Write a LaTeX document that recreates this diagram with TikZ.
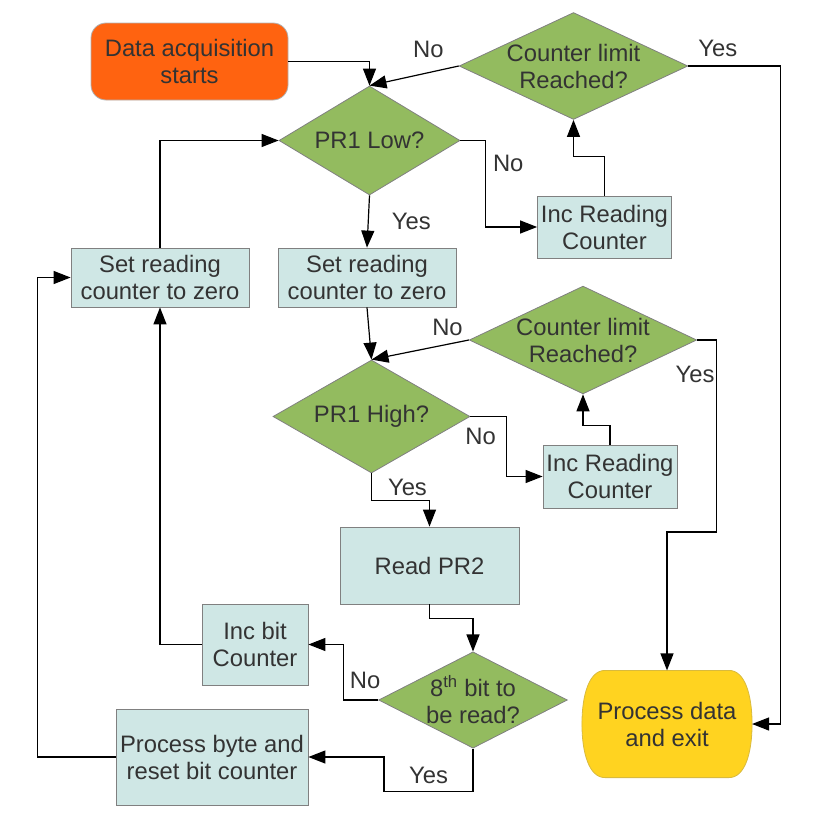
\documentclass[tikz,border=0pt]{standalone}
\usepackage{fontspec}
\setmainfont{Liberation Sans}
\usetikzlibrary{shapes.geometric, positioning, arrows.meta, backgrounds}

\definecolor{startorange}{HTML}{FF6310}
\definecolor{decgreen}{HTML}{93BB5F}
\definecolor{boxcyan}{HTML}{CFE7E5}
\definecolor{endyellow}{HTML}{FFD320}
\definecolor{txtgray}{HTML}{333333}

\tikzset{
  every node/.style={font=\fontsize{23.8}{27}\selectfont, text=txtgray, align=center},
  box/.style={rectangle, draw=gray, line width=0.8pt, fill=boxcyan, inner sep=0pt},
  decision/.style={diamond, draw=gray, line width=0.8pt, fill=decgreen, inner sep=0pt},
  startbox/.style={rectangle, rounded corners=15pt, draw=gray!60, line width=0.8pt, fill=startorange, inner sep=0pt},
  endbox/.style={rectangle, inner sep=0pt},
  barrel/.style={draw=endyellow!70!gray, line width=0.8pt, fill=endyellow},
  lbl/.style={inner sep=0pt}
}

\begin{document}
\begin{tikzpicture}[x=1pt,y=-1pt,>={Triangle[length=17pt,width=13pt]},line width=1.2pt,node distance=207pt,on grid]
       \useasboundingbox (0,0) rectangle (816,827);
       \node[startbox, minimum width=197pt, minimum height=77pt] (start) at (189.5,61.5) {Data acquisition\\starts};
       \node[decision, minimum width=225pt, minimum height=105pt, aspect=2.14] (limA) at (573.5,66) {Counter limit\\Reached?};
       \node[decision, minimum width=181pt, minimum height=109pt, aspect=1.66] (low) at (369.5,140.5) {PR1 Low?};
       \node[box, minimum width=134pt, minimum height=62pt] (incA) at (604.5,227) {Inc Reading\\Counter};
       \node[box, minimum width=178pt, minimum height=59pt] (setB) at (367,277.5) {Set reading\\counter to zero};
       \node[box, minimum width=178pt, minimum height=59pt] (setA) [left=of setB] {Set reading\\counter to zero};
       \node[decision, minimum width=224pt, minimum height=106pt, aspect=2.11] (limB) at (583,340) {Counter limit\\Reached?};
       \node[decision, minimum width=197pt, minimum height=113pt, aspect=1.74] (high) at (371.5,416.5) {PR1 High?};
       \node[box, minimum width=134pt, minimum height=63pt] (incB) at (610,476.5) {Inc Reading\\Counter};
       \node[box, minimum width=179pt, minimum height=77pt] (read) at (429.5,565.5) {Read PR2};
       \node[decision, minimum width=188pt, minimum height=96pt, aspect=1.96] (bit) at (473,700) {8\textsuperscript{th} bit to\\be read?};
       \node[box, minimum width=106pt, minimum height=81pt] (incbit) at (255,644.5) {Inc bit\\Counter};
       \node[box, minimum width=192pt, minimum height=96pt] (byte) at (212,757) {Process byte and\\reset bit counter};
       \node[endbox, minimum width=132pt, minimum height=106pt] (done) at (667,724) {Process data\\and exit};
       \coordinate (doneR) at ([xshift=15pt]done.east);

       % barrel outline behind the end node
       \begin{scope}[on background layer]
         \draw[barrel] ([xshift=8pt]done.north west) -- ([xshift=-8pt]done.north east)
           .. controls ([xshift=8pt]done.north east) and ([xshift=15pt,yshift=-25pt]done.north east) .. (doneR)
           .. controls ([xshift=15pt,yshift=25pt]done.south east) and ([xshift=8pt]done.south east) .. ([xshift=-8pt]done.south east)
           -- ([xshift=8pt]done.south west)
           .. controls ([xshift=-8pt]done.south west) and ([xshift=-15pt,yshift=25pt]done.south west) .. ([xshift=-15pt]done.west)
           .. controls ([xshift=-15pt,yshift=-25pt]done.north west) and ([xshift=-8pt]done.north west) .. cycle;
       \end{scope}

       % reading loop for PR1 low
       \draw[->] (start.east) -| (low.north);
       \draw[->] (limA.west) -- node[lbl, pos=0.34, above=14pt] {No} (low.north);
       \draw[->] (limA.east) -- node[lbl, pos=0.32, above=9pt] {Yes} ++(92,0) |- (doneR);
       \draw[->] (low.east) -- ++(25,0) |- node[lbl, pos=0.13, right=7pt] {No} (incA.west);
       \draw[->] (incA.north) -- ++(0,-39) -| (limA.south);
       \draw[->] (low.south) -- node[lbl, right=23pt] {Yes} (setB.north);
       \draw[->] (setA.north) |- (low.west);

       % reading loop for PR1 high
       \draw[->] (setB.south) -- (high.north);
       \draw[->] (limB.west) -- node[lbl, pos=0.22, above=8pt] {No} (high.north);
       \draw[->] (limB.east) -- ++(19,0) -- node[lbl, pos=0.18, left=1pt] {Yes} ++(0,192) -| (done.north);
       \draw[->] (high.east) -- ++(36,0) |- node[lbl, pos=0.17, left=10pt] {No} (incB.west);
       \draw[->] (incB.north) -- ++(0,-19) -| (limB.south);
       \draw[->] (high.south) -- ++(0,27) -| node[lbl, pos=0.31, above=4pt] {Yes} (read.north);

       % bit counting
       \draw[->] (read.south) -- ++(0,14) -| (bit.north);
       \draw[->] (bit.west) -- ++(-35,0) |- node[lbl, pos=0.18, right=6pt] {No} (incbit.east);
       \draw[->] (incbit.west) -| (setA.south);
       \draw[->] (bit.south) -- ++(0,43) -- node[lbl, above=7pt] {Yes} ++(-89,0) |- (byte.east);
       \draw[->] (byte.west) -- ++(-78,0) |- (setA.west);
\end{tikzpicture}
\end{document}
